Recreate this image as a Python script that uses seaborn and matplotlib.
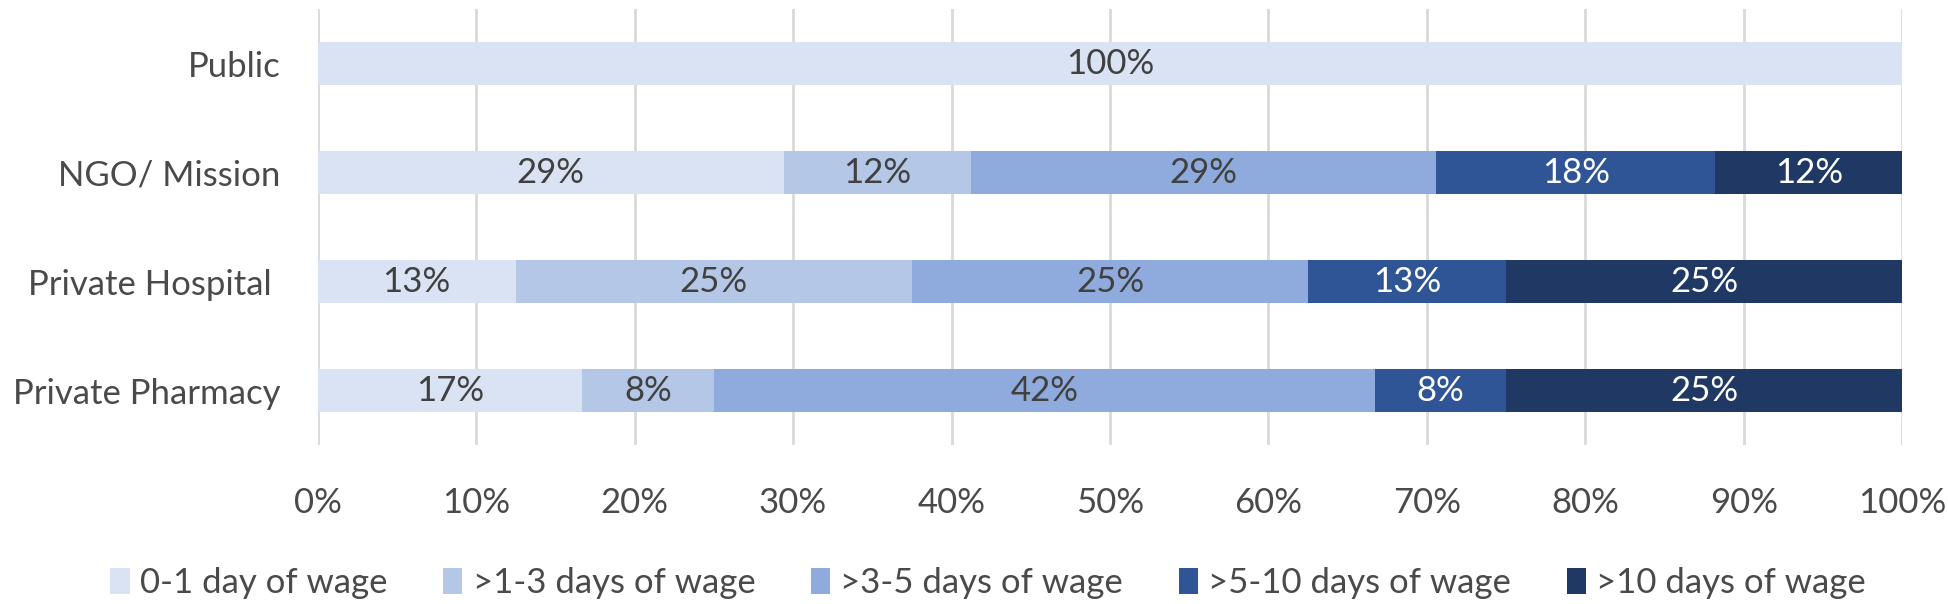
import matplotlib
matplotlib.use("Agg")
import matplotlib.pyplot as plt
import seaborn as sns
import pandas as pd
import numpy as np
from matplotlib.patches import Patch

categories = ["Public", "NGO/ Mission", "Private Hospital ", "Private Pharmacy"]
series_names = ["0-1 day of wage", ">1-3 days of wage", ">3-5 days of wage",
                ">5-10 days of wage", ">10 days of wage"]
s0 = [100.0, 29.4, 12.5, 16.7]
s1 = [0.0, 11.8, 25.0, 8.3]
s2 = [0.0, 29.4, 25.0, 41.7]
s3 = [0.0, 17.6, 12.5, 8.3]
s4 = [0.0, 11.8, 25.0, 25.0]
tick_values = [0, 10, 20, 30, 40, 50, 60, 70, 80, 90, 100]

colors = ["#DAE3F3", "#B4C7E7", "#8FAADC", "#2F5597", "#203864"]
text_colors = ["#404040", "#404040", "#404040", "white", "white"]
label_color = "#4a4a4a"

sns.set_theme(style="white")
plt.rcParams["font.family"] = ["Lato", "DejaVu Sans"]

series = [s0, s1, s2, s3, s4]
vals = np.array(series)
cum = np.cumsum(vals, axis=0)

fig = plt.figure(figsize=(19.49, 6.04), dpi=100)
ax = fig.add_axes([0.163, 0.263, 0.813, 0.722])

for i in range(len(series) - 1, -1, -1):
    df = pd.DataFrame({"cat": categories, "val": cum[i]})
    sns.barplot(data=df, x="val", y="cat", order=categories, color=colors[i],
                orient="h", width=0.4, ax=ax, saturation=1, edgecolor="none",
                linewidth=0)

FS = 25
for i in range(len(series)):
    for j, cat in enumerate(categories):
        v = vals[i][j]
        if v <= 0:
            continue
        start = cum[i][j] - v
        ax.text(start + v / 2, j, f"{int(v + 0.5)}%", ha="center", va="center",
                fontsize=FS, color=text_colors[i])

ax.set_xlim(0, 100)
ax.set_ylim(3.5, -0.5)
ax.set_xticks(tick_values)
ax.set_xticklabels([f"{t}%" for t in tick_values], fontsize=FS, color=label_color)
ax.tick_params(axis="y", labelsize=FS, labelcolor=label_color, length=0, pad=27)
ax.tick_params(axis="x", length=0, pad=30)
ax.set_xlabel("")
ax.set_ylabel("")
ax.grid(axis="x", color="#D9D9D9", linewidth=2)
ax.set_axisbelow(True)
for sp in ax.spines.values():
    sp.set_visible(False)

handles = [Patch(facecolor=c, edgecolor="none") for c in colors]
fig.legend(handles, series_names, loc="center", bbox_to_anchor=(0.507, 0.035),
           ncol=5, frameon=False, fontsize=FS, labelcolor=label_color,
           handlelength=0.55, handleheight=0.8, handletextpad=0.3, columnspacing=1.6)

fig.savefig("out.png", dpi=100)
